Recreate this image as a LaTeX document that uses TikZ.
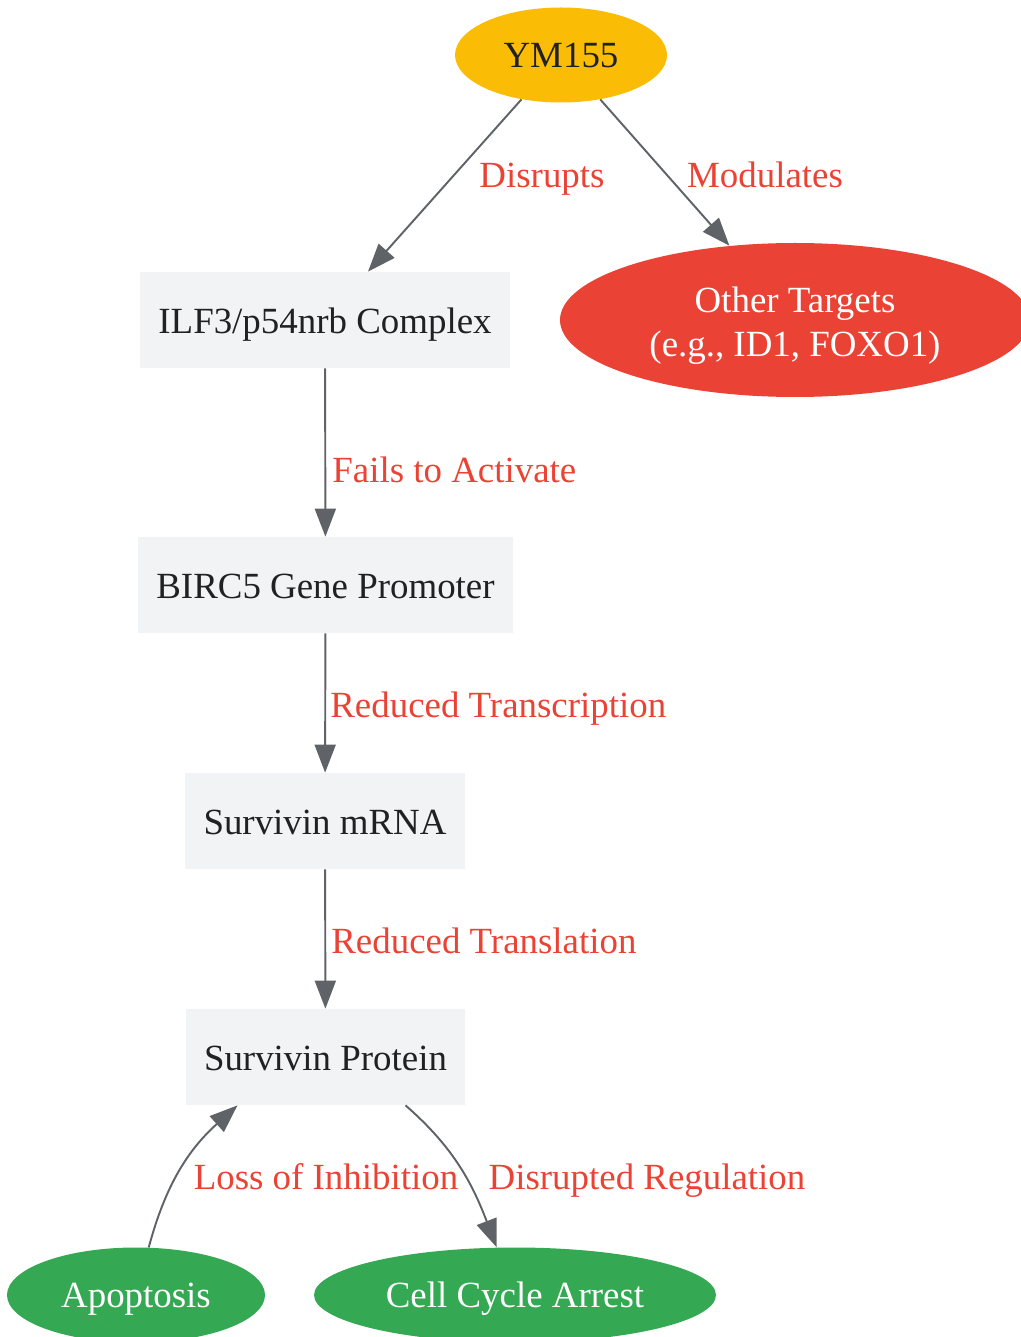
\documentclass[tikz,border=0pt]{standalone}
\usepackage{fontspec}
\setmainfont{Liberation Serif}
\usepackage{tikz}
\usetikzlibrary{shapes.geometric,arrows.meta}
\definecolor{ink}{HTML}{202124}
\definecolor{wire}{HTML}{5F6368}
\definecolor{gold}{HTML}{FBBC05}
\definecolor{alert}{HTML}{EA4335}
\definecolor{leaf}{HTML}{34A853}
\definecolor{pale}{HTML}{F1F3F4}
\tikzset{
  every node/.style={font=\fontsize{21}{25}\selectfont},
  box/.style={rectangle, fill=pale, text=ink, minimum height=1.92cm, inner xsep=0.37cm, text height=0.54cm, text depth=0cm},
  drug/.style={ellipse, fill=gold, text=ink, inner sep=0pt, minimum width=4.24cm, minimum height=1.9cm, text height=0.52cm, text depth=0cm},
  hit/.style={ellipse, fill=alert, text=white, inner sep=0pt, align=center, minimum width=9.4cm, minimum height=3.08cm},
  fate/.style={ellipse, fill=leaf, text=white, inner sep=0pt, minimum height=1.9cm, text height=0.5cm, text depth=0cm},
  link/.style={draw=wire, line width=1.1pt, -{Triangle[length=0.56cm,width=0.42cm]}},
  lab/.style={text=alert},
}

\begin{document}
\begin{tikzpicture}
  \useasboundingbox (0,0) rectangle (20.4,-26.74);
  \node[drug] (ym) at (11.22,-1.10) {YM155};
  \node[hit] (oth) at (15.90,-6.40) {\rule{0pt}{21pt}Other Targets\\(e.g., ID1, FOXO1)};
  \node[box] (ilf) at (6.50,-6.40) {ILF3/p54nrb Complex};
  \node[box] (birc) at (6.51,-11.70) {BIRC5 Gene Promoter};
  \node[box] (mrna) at (6.50,-16.42) {Survivin mRNA};
  \node[box] (prot) at (6.51,-21.14) {Survivin Protein};
  \node[fate, minimum width=5.16cm] (apop) at (2.72,-25.90) {Apoptosis};
  \node[fate, minimum width=8.04cm] (cca) at (10.30,-25.90) {Cell Cycle Arrest};

  \draw[link] (ym) -- (ilf);
  \draw[link] (ym) -- (oth);
  \draw[link] (ilf) -- (birc);
  \draw[link] (birc) -- (mrna);
  \draw[link] (mrna) -- (prot);
  \draw[link] (apop) to[out=75,in=222] ([xshift=-1.76cm]prot.south);
  \draw[link] ([xshift=1.6cm]prot.south) to[out=-41,in=111] (cca);

  \node[lab, anchor=base] (lDis) at (10.84,-3.76) {Disrupts};
  \node[lab, anchor=base] (lMod) at (15.30,-3.76) {Modulates};
  \node[lab, anchor=base west, inner sep=0pt] (lFail) at (6.64,-9.64) {Fails to Activate};
  \node[lab, anchor=base west, inner sep=0pt] (lTrc) at (6.60,-14.34) {Reduced Transcription};
  \node[lab, anchor=base west, inner sep=0pt] (lTrl) at (6.62,-19.06) {Reduced Translation};
  \node[lab, anchor=base] (lLoss) at (6.52,-23.78) {Loss of Inhibition};
  \node[lab, anchor=base] (lReg) at (12.94,-23.78) {Disrupted Regulation};
\end{tikzpicture}
\end{document}
